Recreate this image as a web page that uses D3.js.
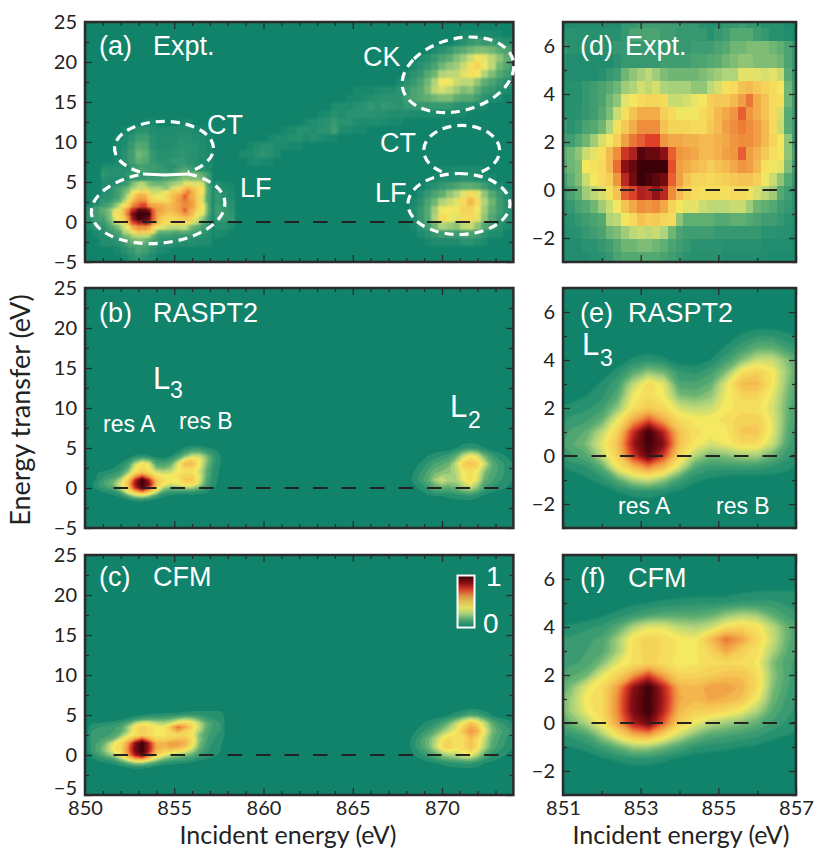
<!DOCTYPE html>
<html lang="en">
<head>
    <meta charset="UTF-8">
    <title>RIXS maps: Expt., RASPT2, CFM</title>
    <script src="https://cdnjs.cloudflare.com/ajax/libs/d3/7.8.5/d3.min.js"></script>
    <style>
        body { margin: 0; background: white; }
        svg { display: block; }
        .tick-labels text { font-family: Lato, sans-serif; font-size: 20px; fill: #222; }
        .axis-title { font-family: Lato, sans-serif; font-size: 25px; fill: #222; }
        .note { font-family: "Liberation Sans", sans-serif; fill: white; }
    </style>
</head>
<body>
    <div id="chart"></div>

    <script>

        // Measured map around the L3 edge, 0.2 eV x 0.55 eV bins, top row first
        const exptBins = [
            [3,4,4,4,4,4,4,4,8,8,10,10,10,10,10,10,8,8,5,5,5,8,8,10,8,8,5,5,5,3,3],
            [5,6,5,5,5,5,5,5,8,12,12,12,12,10,10,8,8,8,8,5,8,10,14,14,14,10,8,5,5,4,3],
            [8,6,5,5,5,5,5,8,8,8,8,8,8,8,8,8,8,10,10,10,12,14,18,18,20,20,20,18,16,12,8],
            [5,4,4,4,4,4,4,6,8,8,8,8,8,10,10,10,10,12,12,14,15,18,20,22,22,20,20,20,18,12,8],
            [4,4,4,4,4,5,8,10,18,22,25,28,24,20,18,18,18,18,20,22,24,26,26,34,34,34,32,34,30,15,8],
            [5,5,5,8,10,12,15,18,24,26,32,28,32,26,25,25,25,22,22,28,32,40,42,50,52,48,45,42,38,18,10],
            [5,5,5,8,10,12,18,22,34,38,42,44,44,42,30,30,32,35,38,46,48,48,52,58,65,55,50,42,40,18,10],
            [5,5,6,8,10,14,20,30,40,50,55,55,55,46,42,36,36,36,42,46,52,56,60,68,60,55,50,42,32,15,10],
            [8,6,8,12,14,18,26,40,48,55,62,62,62,50,45,44,44,42,42,48,52,58,62,64,62,58,52,42,30,15,10],
            [10,10,14,18,24,32,38,46,58,65,68,72,72,60,56,56,54,54,52,52,54,56,60,62,62,58,52,44,38,22,10],
            [16,18,22,30,34,40,52,62,75,80,95,92,92,85,68,60,58,56,52,52,54,58,60,68,58,54,48,40,38,22,12],
            [14,18,20,38,40,42,52,66,85,92,100,100,100,100,70,58,55,52,50,46,50,52,56,60,58,52,40,36,34,20,10],
            [10,16,20,30,38,42,46,60,78,90,100,98,94,90,68,58,50,44,44,42,44,46,48,50,50,46,36,30,22,14,8],
            [8,12,16,24,28,32,40,50,68,72,80,78,84,78,62,52,45,42,40,40,40,40,42,42,40,32,28,24,14,10,6],
            [6,8,12,14,18,24,30,38,50,56,62,60,62,56,45,38,34,34,30,28,28,28,30,30,24,18,16,14,10,8,6],
            [5,6,8,10,12,14,26,28,38,42,50,46,48,44,42,22,16,16,16,16,14,14,16,16,14,12,10,10,8,6,5],
            [4,5,6,8,10,12,18,20,24,28,30,28,30,26,18,12,10,10,10,10,8,8,8,8,8,8,6,6,5,5,4],
            [4,4,4,6,6,8,10,14,18,18,20,20,18,16,12,10,8,6,6,6,6,5,5,5,5,5,4,4,4,4,3],
            [4,4,4,4,5,6,8,12,14,14,14,14,14,12,10,8,6,5,5,5,5,4,4,4,4,4,4,3,3,3,3]
        ];

        // Wider view of panel (a): everything outside exptBins, 0.4 eV x 1 eV bins
        const exptWideL3 = [
            [0,0,0,0,0,0,0,0,2,2,0,0,0,2,2,0,0,0,0,0,0],
            [0,0,0,0,0,2,3,5,6,4,3,3,4,4,4,3,2,0,0,0,0],
            [0,0,0,0,2,3,6,10,10,5,4,4,4,5,5,4,3,2,0,0,0],
            [0,0,0,0,2,4,8,14,13,6,4,4,5,6,6,5,4,2,0,0,0],
            [0,0,0,0,2,5,10,18,16,8,5,5,6,7,6,5,4,2,0,0,0],
            [0,0,0,0,2,5,10,16,14,8,6,6,8,8,6,5,3,2,0,0,0],
            [0,0,0,0,0,0,0,0,0,0,0,0,0,0,0,0,0,0,0,0,0],
            [0,0,0,0,0,0,0,0,0,0,0,0,0,0,0,0,0,0,0,0,0],
            [0,0,0,0,0,0,0,0,0,0,0,0,0,0,0,0,0,0,6,3,2],
            [0,0,0,0,0,0,0,0,0,0,0,0,0,0,0,0,0,0,8,5,3],
            [0,3,6,0,0,0,0,0,0,0,0,0,0,0,0,0,0,0,8,6,5],
            [5,10,14,0,0,0,0,0,0,0,0,0,0,0,0,0,0,0,10,8,6],
            [5,10,12,0,0,0,0,0,0,0,0,0,0,0,0,0,0,0,8,8,8],
            [3,6,8,0,0,0,0,0,0,0,0,0,0,0,0,0,0,0,5,5,3],
            [0,3,5,0,0,0,0,0,0,0,0,0,0,0,0,0,0,0,3,2,0],
            [0,0,3,0,0,0,0,0,0,0,0,0,0,0,0,0,0,0,0,0,0],
            [0,0,0,0,2,5,8,12,10,6,3,2,0,0,0,0,0,0,0,0,0],
            [0,0,0,0,0,2,5,8,6,3,0,0,0,0,0,0,0,0,0,0,0]
        ];
        const exptStreak = [
            [0,0,0,0,0,0,0,0,0,0,0,0,0,0,0,0,2,2,2],
            [0,0,0,0,0,0,0,0,0,0,0,0,0,0,0,2,2,3,4],
            [0,0,0,0,0,0,0,0,0,0,0,0,0,3,4,3,5,6,8],
            [0,0,0,0,0,0,0,0,0,0,0,2,3,5,4,6,6,6,6],
            [0,0,0,0,0,0,0,0,0,2,4,5,6,8,6,6,4,3,3],
            [0,0,0,0,0,0,2,3,5,5,4,6,6,10,4,3,2,2,0],
            [0,0,0,0,2,4,3,5,5,3,5,3,2,2,0,0,0,0,0],
            [0,2,4,5,5,3,3,2,2,0,0,0,0,0,0,0,0,0,0],
            [3,3,5,7,5,3,0,0,0,0,0,0,0,0,0,0,0,0,0],
            [0,2,3,2,2,0,0,0,0,0,0,0,0,0,0,0,0,0,0]
        ];
        const exptCK = [
            [0,0,0,0,0,0,0,0,0,0,0,0,2,2,2,2,2,2,0,0],
            [0,0,0,0,0,0,0,0,0,0,0,3,5,8,10,8,8,6,5,4],
            [0,0,0,0,0,0,0,0,3,5,8,12,15,18,20,20,18,14,12,8],
            [0,0,0,0,0,0,3,5,8,12,15,20,24,30,36,34,28,22,16,12],
            [0,0,0,0,0,3,6,8,12,18,22,24,30,40,44,36,28,18,14,10],
            [0,0,0,0,3,6,8,14,18,26,28,28,34,40,36,26,20,14,10,6],
            [0,0,0,3,6,8,12,18,26,38,36,30,28,28,22,16,12,8,6,3],
            [3,4,4,6,8,12,14,20,28,32,28,24,20,22,16,10,8,5,3,2],
            [5,6,6,6,10,12,14,16,18,20,20,16,14,14,10,6,4,3,0,0],
            [6,8,7,6,8,8,8,8,8,8,8,6,5,5,3,2,0,0,0,0],
            [5,5,4,4,4,3,3,3,3,2,2,2,2,0,0,0,0,0,0,0],
            [4,3,2,2,0,0,0,0,0,0,0,0,0,0,0,0,0,0,0,0]
        ];
        const exptL2 = [
            [0,0,0,0,2,2,3,3,3,3,2,0,0,0,0],
            [0,0,0,2,3,3,4,5,5,4,3,2,0,0,0],
            [0,0,3,5,8,10,12,15,16,14,10,6,3,0,0],
            [0,4,8,12,16,22,26,34,42,34,22,14,8,4,2],
            [2,6,12,18,26,30,34,42,52,42,26,18,10,5,3],
            [3,8,14,24,36,38,36,44,44,36,24,16,10,6,3],
            [3,8,14,26,42,36,34,42,42,34,22,14,8,5,3],
            [2,6,10,18,26,24,22,28,30,22,14,10,6,3,2],
            [0,3,5,8,10,10,10,12,12,10,6,4,3,0,0],
            [0,0,2,3,4,4,4,6,6,4,3,0,0,0,0]
        ];

        // RASPT2 L3 edge, columns 850.4 to 857.6 eV in 0.4 eV steps, rows 5.5 to -2 eV in 0.5 eV steps
        const rasptL3 = [
            [0,0,0,0,0,0,0,0,0,0,0,0,0,0,0,0,0,0,0],
            [0,0,0,0,0,0,0,0,0,0,0,0,0,4,7,7,4,2,0],
            [0,0,0,0,0,0,0,0,0,0,0,0,4,10,16,16,10,6,2],
            [0,0,0,0,0,0,4,6,4,0,0,3,10,20,30,30,20,8,3],
            [0,0,0,0,0,5,14,22,18,8,6,10,20,40,46,38,22,9,3],
            [0,0,0,0,4,10,28,42,34,12,12,16,34,52,52,38,20,8,3],
            [0,0,0,3,6,14,36,42,36,20,18,22,36,44,44,34,18,7,2],
            [0,3,5,6,10,22,40,48,42,32,28,30,38,40,40,32,16,6,2],
            [0,5,8,10,16,36,56,70,56,42,38,38,40,46,46,34,16,6,2],
            [0,6,12,16,28,45,76,100,78,50,40,38,38,48,48,34,14,4,2],
            [3,8,14,20,34,50,82,100,86,50,38,32,36,42,42,30,12,4,2],
            [2,6,10,14,28,46,74,94,72,44,26,18,20,24,24,16,8,3,0],
            [0,2,4,6,14,36,50,60,50,30,12,8,8,8,8,6,4,0,0],
            [0,0,0,2,5,14,26,30,22,10,4,2,0,0,0,0,0,0,0],
            [0,0,0,0,0,3,5,6,4,2,0,0,0,0,0,0,0,0,0],
            [0,0,0,0,0,0,0,0,0,0,0,0,0,0,0,0,0,0,0]
        ];
        // RASPT2 L2 edge, columns 868 to 874.4 eV in 0.4 eV steps, rows 5 to -1 eV in 1 eV steps
        const rasptL2 = [
            [0,0,0,0,0,0,0,3,6,8,6,3,0,0,0,0,0],
            [0,0,0,3,5,7,10,16,30,38,32,18,10,5,3,0,0],
            [0,0,4,8,12,14,18,30,46,50,46,30,16,10,6,3,0],
            [0,3,7,12,18,20,22,28,38,40,36,20,14,10,6,4,0],
            [0,4,9,15,24,32,26,26,36,42,32,16,12,8,5,3,0],
            [0,2,4,8,14,16,14,18,24,28,20,10,6,4,3,0,0],
            [0,0,0,2,3,3,4,5,6,6,4,2,0,0,0,0,0]
        ];

        // CFM, same grids as RASPT2
        const cfmL3 = [
            [0,0,0,0,0,0,0,0,0,0,0,0,0,2,3,3,3,3,3],
            [0,0,0,0,0,0,2,3,4,5,6,6,7,8,8,8,6,5,5],
            [0,0,0,0,2,5,8,12,14,14,14,16,22,26,24,16,10,7,6],
            [3,3,4,6,8,14,26,34,34,28,26,30,40,44,40,28,16,10,7],
            [6,7,8,10,12,24,40,46,42,38,36,52,66,58,44,30,16,10,7],
            [7,8,9,11,14,24,40,46,42,38,38,44,56,46,40,26,14,9,7],
            [8,8,10,12,20,34,40,44,42,36,38,42,42,42,38,20,12,8,6],
            [9,10,14,18,34,44,58,72,56,44,44,46,50,50,42,22,12,7,5],
            [9,12,20,34,42,58,84,100,78,54,52,58,58,54,42,20,11,6,4],
            [9,14,24,38,42,62,88,100,80,56,52,56,54,50,36,18,9,5,3],
            [8,14,24,36,42,62,88,100,78,52,46,46,42,36,26,14,8,5,3],
            [5,10,18,26,38,58,80,92,68,46,36,28,24,20,16,10,6,4,2],
            [2,5,8,12,24,40,54,58,44,30,20,14,12,10,8,5,3,2,0],
            [0,2,3,5,10,16,24,24,18,12,7,5,4,3,2,0,0,0,0],
            [0,0,0,0,2,4,6,6,4,2,0,0,0,0,0,0,0,0,0],
            [0,0,0,0,0,0,0,0,0,0,0,0,0,0,0,0,0,0,0]
        ];
        const cfmL2 = [
            [0,0,0,0,0,0,3,5,9,13,11,7,3,0,0,0,0],
            [0,0,2,4,7,11,18,28,40,50,42,28,16,9,6,3,0],
            [0,2,5,9,15,22,30,38,50,60,54,36,20,13,9,6,2],
            [0,5,11,17,26,38,44,40,42,50,42,28,16,11,7,4,2],
            [0,6,11,17,28,42,46,40,42,50,40,26,14,9,6,3,0],
            [0,3,6,9,15,22,26,28,34,36,26,14,8,5,3,2,0],
            [0,0,0,2,3,4,6,7,8,8,6,3,2,0,0,0,0]
        ];

        const wideTicksX = [850, 855, 860, 865, 870];
        const wideMinorX = d3.range(851, 874).filter(d => d % 5 !== 0);
        const wideTicksY = [-5, 0, 5, 10, 15, 20, 25];
        const wideMinorY = d3.range(-2.5, 25, 5);
        const zoomTicksX = [851, 853, 855, 857];
        const zoomMinorX = [852, 854, 856];
        const zoomTicksY = [-2, 0, 2, 4, 6];
        const zoomMinorY = [-3, -1, 1, 3, 5, 7];

        const colourStops = [0, 6, 16, 26, 37, 50, 62, 72, 85, 100];
        const colourValues = ["#10836a", "#2a9270", "#5fae72", "#b0d47c", "#f5e961", "#f5c353", "#ee8d3c", "#e03f2a", "#8c1016", "#3c0008"];
        const colour = d3.scaleLinear().domain(colourStops).range(colourValues).clamp(true);

        const svg = d3.select("#chart").append("svg").attr("width", 814).attr("height", 850);
        const defs = svg.append("defs");

        // Panel boxes
        const leftBox = { x0: 85, x1: 513.4 };
        const rightBox = { x0: 563, x1: 796 };
        const rowBoxes = [{ y0: 22, y1: 262 }, { y0: 288, y1: 528 }, { y0: 555, y1: 795 }];

        function makePanel(id, box, row, xDomain, yDomain) {
            const sx = d3.scaleLinear().domain(xDomain).range([box.x0, box.x1]);
            const sy = d3.scaleLinear().domain(yDomain).range([rowBoxes[row].y1, rowBoxes[row].y0]);
            defs.append("clipPath").attr("id", id)
                .append("rect")
                .attr("x", box.x0).attr("y", rowBoxes[row].y0)
                .attr("width", box.x1 - box.x0).attr("height", rowBoxes[row].y1 - rowBoxes[row].y0);
            const g = svg.append("g").attr("clip-path", `url(#${id})`);
            g.append("rect")
                .attr("x", box.x0).attr("y", rowBoxes[row].y0)
                .attr("width", box.x1 - box.x0).attr("height", rowBoxes[row].y1 - rowBoxes[row].y0)
                .attr("fill", colour(0));
            return { g, sx, sy };
        }

        // Square bins; firstX is the centre of the first column, topY the top edge of the first row
        function drawBins(g, rows, firstX, stepX, topY, stepY, sx, sy) {
            rows.forEach((row, i) => {
                g.selectAll(null)
                    .data(row.map((v, j) => ({ v, j })).filter(d => d.v > 0))
                    .enter()
                    .append("rect")
                    .attr("x", d => sx(firstX + (d.j - 0.5) * stepX))
                    .attr("y", sy(topY - i * stepY))
                    .attr("width", sx(firstX + stepX) - sx(firstX))
                    .attr("height", sy(0) - sy(stepY))
                    .attr("fill", d => colour(d.v))
                    .attr("shape-rendering", "crispEdges");
            });
        }

        // Filled contour bands; firstX and firstY are the position of value [0][0]
        function drawBands(g, rows, firstX, stepX, firstY, stepY, sx, sy) {
            const n = rows[0].length + 2;
            const blank = new Array(n).fill(0);
            const flat = [blank, ...rows.map(r => [0, ...r, 0]), blank].flat();
            const levels = d3.range(3, 100, 4);
            const contours = d3.contours().size([n, rows.length + 2]).thresholds(levels)(flat);
            const project = d3.geoTransform({
                point(px, py) {
                    this.stream.point(
                        sx(firstX + (px - 1.5) * stepX),
                        sy(firstY - (py - 1.5) * stepY)
                    );
                }
            });
            g.selectAll(null)
                .data(contours)
                .enter()
                .append("path")
                .attr("d", d3.geoPath(project))
                .attr("fill", d => colour(d.value + 2));
        }

        function drawAxes(panel, box, row, major, minorX, majorY, minorY, showX) {
            const { sx, sy } = panel;
            const b = rowBoxes[row];
            const ax = svg.append("g");
            const addTicks = (axis, tx, ty, keepText) => {
                const s = ax.append("g")
                    .attr("transform", `translate(${tx},${ty})`)
                    .attr("class", keepText ? "tick-labels" : null)
                    .call(axis)
                    .attr("font-family", null)
                    .attr("font-size", null);
                s.select(".domain").remove();
                s.selectAll("line").attr("stroke", "#2b2b2b").attr("stroke-width", 1.3);
                if (!keepText) s.selectAll("text").remove();
                return s;
            };
            addTicks(d3.axisTop(sx).tickValues(major).tickSize(-7), 0, b.y0);
            addTicks(d3.axisTop(sx).tickValues(minorX).tickSize(-4), 0, b.y0);
            addTicks(d3.axisBottom(sx).tickValues(minorX).tickSize(-4), 0, b.y1);
            addTicks(d3.axisBottom(sx).tickValues(major).tickSize(-7).tickPadding(6).tickFormat(d3.format("d")), 0, b.y1, showX);
            addTicks(d3.axisRight(sy).tickValues(majorY).tickSize(-7), box.x1, 0);
            addTicks(d3.axisRight(sy).tickValues(minorY).tickSize(-4), box.x1, 0);
            addTicks(d3.axisLeft(sy).tickValues(minorY).tickSize(-4), box.x0, 0);
            const left = addTicks(d3.axisLeft(sy).tickValues(majorY).tickSize(-7).tickPadding(8)
                .tickFormat(d => d3.format("d")(d).replace("-", "\u2212")), box.x0, 0, true);
            // Lift the lowest label so it clears the first x label below it
            if (showX) left.selectAll("text").filter(d => d === -5).attr("dy", "-0.05em");
            ax.append("rect")
                .attr("x", box.x0).attr("y", b.y0)
                .attr("width", box.x1 - box.x0).attr("height", b.y1 - b.y0)
                .attr("fill", "none").attr("stroke", "#2b2b2b").attr("stroke-width", 2.5);
        }

        function zeroLine(panel, startE, endE) {
            svg.append("line")
                .attr("x1", panel.sx(startE)).attr("x2", panel.sx(endE))
                .attr("y1", panel.sy(0)).attr("y2", panel.sy(0))
                .attr("stroke", "#222").attr("stroke-width", 2)
                .attr("stroke-dasharray", "14.5 14");
        }

        function note(text, x, y, size) {
            svg.append("text").attr("class", "note")
                .attr("x", x).attr("y", y)
                .attr("font-size", size || 27)
                .text(text);
        }

        const wideX = [850, 874];
        const wideY = [-5, 25];
        const zoomX = [851, 857];
        const zoomY = [-3, 7];

        // Panel (a)
        const panelA = makePanel("clip-a", leftBox, 0, wideX, wideY);
        const binsA = panelA.g.append("g").style("filter", "blur(1px)");
        drawBins(binsA, exptWideL3, 850.2, 0.4, 13, 1, panelA.sx, panelA.sy);
        drawBins(binsA, exptStreak, 858.8, 0.4, 17, 1, panelA.sx, panelA.sy);
        drawBins(binsA, exptCK, 866.4, 0.4, 24, 1, panelA.sx, panelA.sy);
        drawBins(binsA, exptL2, 868.4, 0.4, 7, 1, panelA.sx, panelA.sy);
        drawBins(binsA, exptBins, 851, 0.2, 7.3, 0.55, panelA.sx, panelA.sy);

        // Panel (b)
        const panelB = makePanel("clip-b", leftBox, 1, wideX, wideY);
        const bandsB = panelB.g.append("g").style("filter", "blur(0.5px)");
        drawBands(bandsB, rasptL3, 850.4, 0.4, 5.5, 0.5, panelB.sx, panelB.sy);
        drawBands(bandsB, rasptL2, 868, 0.4, 5, 1, panelB.sx, panelB.sy);

        // Panel (c)
        const panelC = makePanel("clip-c", leftBox, 2, wideX, wideY);
        const bandsC = panelC.g.append("g").style("filter", "blur(0.5px)");
        drawBands(bandsC, cfmL3, 850.4, 0.4, 5.5, 0.5, panelC.sx, panelC.sy);
        drawBands(bandsC, cfmL2, 868, 0.4, 5, 1, panelC.sx, panelC.sy);

        // Panel (d)
        const panelD = makePanel("clip-d", rightBox, 0, zoomX, zoomY);
        drawBins(panelD.g.append("g").style("filter", "blur(0.7px)"), exptBins, 851, 0.2, 7.3, 0.55, panelD.sx, panelD.sy);

        // Panel (e)
        const panelE = makePanel("clip-e", rightBox, 1, zoomX, zoomY);
        drawBands(panelE.g.append("g").style("filter", "blur(1.2px)"), rasptL3, 850.4, 0.4, 5.5, 0.5, panelE.sx, panelE.sy);

        // Panel (f)
        const panelF = makePanel("clip-f", rightBox, 2, zoomX, zoomY);
        drawBands(panelF.g.append("g").style("filter", "blur(1.2px)"), cfmL3, 850.4, 0.4, 5.5, 0.5, panelF.sx, panelF.sy);

        [panelA, panelB, panelC].forEach(p => zeroLine(p, 851.6, 874));
        [panelD, panelE, panelF].forEach(p => zeroLine(p, 851, 857));

        drawAxes(panelA, leftBox, 0, wideTicksX, wideMinorX, wideTicksY, wideMinorY, false);
        drawAxes(panelB, leftBox, 1, wideTicksX, wideMinorX, wideTicksY, wideMinorY, false);
        drawAxes(panelC, leftBox, 2, wideTicksX, wideMinorX, wideTicksY, wideMinorY, true);
        drawAxes(panelD, rightBox, 0, zoomTicksX, zoomMinorX, zoomTicksY, zoomMinorY, false);
        drawAxes(panelE, rightBox, 1, zoomTicksX, zoomMinorX, zoomTicksY, zoomMinorY, false);
        drawAxes(panelF, rightBox, 2, zoomTicksX, zoomMinorX, zoomTicksY, zoomMinorY, true);

        // Dashed regions drawn on panel (a), in pixels of the picture
        const regionPaths = [
            "M140,172 A49.5,27 0 1 1 188,172",
            "M188,174 A67,35.5 -5 1 1 143,174",
            "M441.7,171.7 A38,25 0 1 1 481.7,171.7",
            "M459,173.5 A51,30.5 0 1 1 458.9,173.5",
            "M414,59 A57,36 -15 1 1 413.9,59.1"
        ];
        svg.selectAll(null)
            .data(regionPaths)
            .enter()
            .append("path")
            .attr("d", d => d)
            .attr("fill", "none")
            .attr("stroke", "white")
            .attr("stroke-width", 3.2)
            .attr("stroke-dasharray", "9 6");
        svg.append("path")
            .attr("d", "M143,174 L165,175 L188,174")
            .attr("fill", "none")
            .attr("stroke", "white")
            .attr("stroke-width", 3);

        // Text on the panels
        note("(a)", 99, 55); note("Expt.", 153, 55);
        note("CK", 363, 66); note("CT", 207, 134); note("LF", 240, 197);
        note("CT", 380, 152); note("LF", 375, 202);
        note("(b)", 99, 322); note("RASPT2", 153, 322);
        note("L", 153, 389, 31); note("3", 170, 398, 23);
        note("L", 450, 417, 31); note("2", 468, 428, 23);
        note("res A", 103, 432, 23); note("res B", 179, 429, 23);
        note("(c)", 99, 586); note("CFM", 153, 586);
        note("(d)", 580, 55); note("Expt.", 625, 55);
        note("(e)", 580, 322); note("RASPT2", 628, 322);
        note("L", 582, 355, 31); note("3", 600, 366, 23);
        note("res A", 618, 514, 23); note("res B", 716, 514, 23);
        note("(f)", 580, 587); note("CFM", 628, 587);

        // Colour bar in panel (c)
        const barValues = d3.range(0, 101, 2);
        const barY = d3.scaleLinear().domain([0, 100]).range([627, 576]);
        svg.append("g")
            .selectAll("rect")
            .data(barValues)
            .enter()
            .append("rect")
            .attr("x", 457.5).attr("width", 17)
            .attr("y", d => barY(d) - 1.2).attr("height", 1.4)
            .attr("fill", d => colour(d));
        svg.append("rect")
            .attr("x", 457.5).attr("y", 575.5).attr("width", 17).attr("height", 52)
            .attr("fill", "none").attr("stroke", "white").attr("stroke-width", 2);
        note("1", 486, 586, 28); note("0", 483, 633, 28);

        // Axis titles
        svg.append("text").attr("class", "axis-title")
            .attr("text-anchor", "middle")
            .attr("transform", "translate(30,410) rotate(-90)")
            .style("font-size", "27px")
            .text("Energy transfer (eV)");
        svg.append("text").attr("class", "axis-title")
            .attr("x", 288).attr("y", 844).attr("text-anchor", "middle")
            .text("Incident energy (eV)");
        svg.append("text").attr("class", "axis-title")
            .attr("x", 681).attr("y", 844).attr("text-anchor", "middle")
            .text("Incident energy (eV)");
    </script>
</body>
</html>
